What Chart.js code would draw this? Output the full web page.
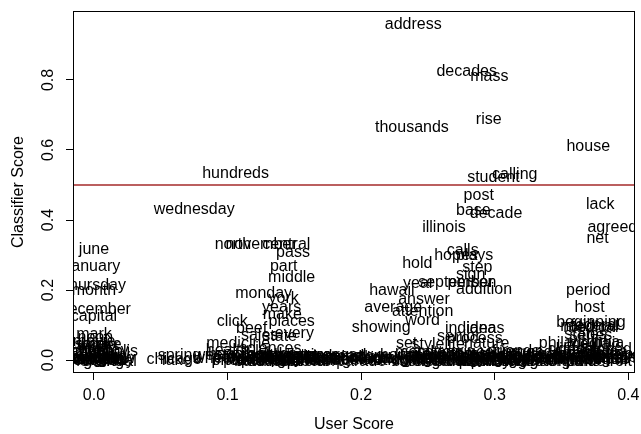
<!DOCTYPE html>
<html>
<head>
<meta charset="utf-8">
<script src="https://cdn.jsdelivr.net/npm/chart.js@4/dist/chart.umd.min.js"></script>
<style>
  body { margin:0; background:#fff; }
  canvas { display:block; }
</style>
</head>
<body>
<canvas id="chart" width="641" height="434"></canvas>
<script>
// =======================
// DATA
// =======================
const words = [
  "address","decades","mass","rise","thousands","house","calling","hundreds","student","post",
  "lack","wednesday","base","decade","illinois","agreed","net","north","november","central",
  "june","calls","pass","hopes","plays","hold","january","part","step","sign",
  "middle","september","person","year","thursday","addition","hawaii","month","period","monday",
  "york","answer","years","average","host","december","attention","make","capital","word",
  "places","click","beginning","national","federal","medical","showing","beef","indiana","ideas",
  "every","mark","states","series","sales","state","senior","process","movie","virginia",
  "medicine","philadelphia","set","nature","style","life","media","smoke","friday","sciences",
  "clinton","developed","health","saturday","friends","minneapolis","agenda","april","jersey","west",
  "spring","sunday","fire","weight","college","money","river","music","board","science",
  "history","boston","head","garden","march","power","field","team","summer","ohio",
  "texas","market","today","plants","canada","europe","october","social","daughter","island",
  "water","season","brand","food","james","tonight","police","light","training","railroad",
  "august","church","family","goal","design","sense","chicago","energy","stadium","paper",
  "weekend","game","court","bread","engine","lake","morning","school","general","pennsylvania",
  "special","local","village","center","holiday","station","bridge","doctor","streets","prices",
  // left cluster
  "may","july","week","night","evening","february","yesterday","tomorrow","winter","noon","hour",
  // middle band
  "wheel","heat","price","gold","bank","rock","movies","office","club","teacher","meeting",
  "report","theater","council","dinner","stone","tree","hospital","street","road","parade","store","hotel",
  // right-centre band
  "horse","color","metal","coffee","glass","sugar","cotton","ocean","band","coast","trade",
  "forest","engineering","software","fashion","painting","hockey","soccer","theatre",
  // right band
  "florida","georgia","ireland","london","toronto","paris","oregon","michigan","arizona","detroit","vermont","maine"
];

const userScore = [
  0.239,0.279,0.296,0.2955,0.238,0.370,0.315,0.106,0.299,0.288,
  0.379,0.075,0.284,0.301,0.262,0.388,0.377,0.104,0.125,0.144,
  0.000,0.276,0.149,0.271,0.285,0.242,0.000,0.142,0.287,0.282,
  0.148,0.271,0.283,0.243,0.001,0.292,0.223,0.000,0.370,0.127,
  0.142,0.247,0.1405,0.224,0.371,0.001,0.246,0.141,0.000,0.246,
  0.148,0.1035,0.372,0.370,0.375,0.372,0.215,0.118,0.282,0.293,
  0.150,0.000,0.368,0.372,0.124,0.139,0.273,0.285,0.000,0.375,
  0.108,0.365,0.234,0.294,0.250,0.270,0.370,0.003,0.002,0.132,
  0.357,0.375,0.100,0.003,0.316,0.001,0.330,0.000,0.382,0.087,
  0.064,0.002,0.238,0.256,0.390,0.128,0.170,0.116,0.144,0.280,
  0.300,0.363,0.189,0.270,0.000,0.105,0.156,0.247,0.310,0.340,
  0.372,0.136,0.203,0.290,0.353,0.388,0.003,0.154,0.232,0.320,
  0.120,0.260,0.336,0.108,0.380,0.002,0.148,0.252,0.305,0.360,
  0.004,0.124,0.140,0.242,0.295,0.384,0.060,0.275,0.345,0.112,
  0.000,0.152,0.265,0.285,0.315,0.062,0.001,0.132,0.012,0.308,
  0.157,0.175,0.182,0.196,0.210,0.218,0.226,0.165,0.325,0.330,
  0.000,0.002,0.004,0.006,0.004,0.005,0.004,0.006,0.003,0.001,0.002,
  0.090,0.097,0.101,0.110,0.118,0.122,0.126,0.130,0.134,0.138,0.142,
  0.146,0.150,0.154,0.160,0.168,0.174,0.180,0.186,0.192,0.200,0.207,0.214,
  0.229,0.236,0.240,0.245,0.250,0.255,0.258,0.262,0.268,0.272,0.278,
  0.282,0.288,0.293,0.298,0.303,0.308,0.313,0.318,
  0.340,0.346,0.350,0.356,0.362,0.366,0.370,0.376,0.380,0.386,0.392,0.396
];

const classifierScore = [
  0.959,0.824,0.811,0.688,0.663,0.609,0.531,0.533,0.521,0.471,
  0.443,0.431,0.427,0.419,0.379,0.379,0.348,0.330,0.331,0.329,
  0.316,0.314,0.307,0.297,0.297,0.276,0.267,0.267,0.264,0.243,
  0.235,0.222,0.221,0.217,0.212,0.202,0.198,0.197,0.197,0.189,
  0.176,0.174,0.151,0.151,0.151,0.145,0.138,0.131,0.124,0.112,
  0.111,0.109,0.108,0.095,0.098,0.092,0.093,0.091,0.089,0.089,
  0.076,0.074,0.072,0.070,0.069,0.066,0.067,0.060,0.053,0.050,
  0.048,0.047,0.046,0.046,0.045,0.044,0.044,0.043,0.035,0.033,
  0.029,0.029,0.027,0.028,0.024,0.023,0.020,0.018,0.015,0.012,
  0.012,0.012,0.012,0.012,0.012,0.012,0.012,0.010,0.010,0.010,
  0.010,0.010,0.009,0.009,0.008,0.008,0.008,0.008,0.008,0.008,
  0.008,0.006,0.006,0.006,0.006,0.006,0.005,0.005,0.005,0.005,
  0.004,0.004,0.004,0.003,0.003,0.002,0.002,0.002,0.002,0.002,
  0.000,0.000,0.000,0.000,0.000,0.000,0.000,0.001,0.001,-0.002,
  -0.002,-0.002,-0.002,-0.002,-0.002,-0.002,-0.003,-0.003,-0.004,-0.004,
  -0.005,0.002,-0.002,0.000,0.004,-0.002,0.002,-0.003,0.000,0.006,
  0.030,0.020,0.010,0.000,0.006,0.014,-0.002,0.003,0.040,0.065,0.045,
  0.004,0.015,-0.002,0.015,-0.003,0.015,-0.001,0.008,0.016,-0.004,0.014,
  0.004,0.013,-0.001,0.012,0.004,0.013,0.006,0.000,0.013,-0.003,0.011,0.005,
  0.014,-0.004,0.020,-0.003,0.016,-0.004,0.020,0.014,-0.003,0.017,-0.004,
  0.016,0.020,-0.004,0.015,-0.003,0.014,0.012,-0.004,
  0.014,-0.003,0.016,-0.004,0.017,-0.004,0.018,0.000,0.020,-0.004,0.016,0.004
];

const thresholdValue = 0.5;

const xTicks = [0.0, 0.1, 0.2, 0.3, 0.4];
const yTicks = [0.0, 0.2, 0.4, 0.6, 0.8];
const xLabel = "User Score";
const yLabel = "Classifier Score";

const X_MIN = -0.0157, X_MAX = 0.405;
const Y_MIN = -0.037, Y_MAX = 0.997;

// =======================
// PLUGINS
// =======================
const FONT = "16px 'Liberation Sans', Arial, Helvetica, sans-serif";

// word labels, centred on each point (clipped to plot region)
const wordLabels = {
  id: "wordLabels",
  afterDatasetsDraw(chart){
    const ctx = chart.ctx, a = chart.chartArea;
    const meta = chart.getDatasetMeta(0);
    ctx.save();
    ctx.beginPath();
    ctx.rect(a.left, a.top, a.right - a.left, a.bottom - a.top);
    ctx.clip();
    ctx.font = FONT;
    ctx.fillStyle = "#000";
    ctx.textAlign = "center";
    ctx.textBaseline = "middle";
    meta.data.forEach((el, i) => {
      ctx.fillText(words[i], el.x, el.y);
    });
    ctx.restore();
  }
};

// box, tick labels, axis titles
const frame = {
  id: "frame",
  afterDraw(chart){
    const ctx = chart.ctx, a = chart.chartArea;
    const xs = chart.scales.x, ys = chart.scales.y;
    ctx.save();
    ctx.strokeStyle = "#000";
    ctx.lineWidth = 1;
    ctx.strokeRect(a.left + 0.5, a.top + 0.5, a.right - a.left - 1, a.bottom - a.top - 1);

    ctx.font = FONT;
    ctx.fillStyle = "#000";
    ctx.textAlign = "center";
    ctx.textBaseline = "middle";
    xTicks.forEach(v => ctx.fillText(v.toFixed(1), xs.getPixelForValue(v), 396));
    yTicks.forEach(v => {
      ctx.save();
      ctx.translate(49, ys.getPixelForValue(v));
      ctx.rotate(-Math.PI / 2);
      ctx.fillText(v.toFixed(1), 0, 0);
      ctx.restore();
    });
    ctx.fillText(xLabel, (a.left + a.right) / 2, 425);
    ctx.save();
    ctx.translate(19, (a.top + a.bottom) / 2);
    ctx.rotate(-Math.PI / 2);
    ctx.fillText(yLabel, 0, 0);
    ctx.restore();
    ctx.restore();
  }
};

// =======================
// CHART
// =======================
const points = words.map((w, i) => ({ x: userScore[i], y: classifierScore[i] }));

new Chart(document.getElementById("chart"), {
  type: "scatter",
  data: {
    datasets: [
      { data: points, pointRadius: 0, pointHoverRadius: 0 },
      {
        type: "line",
        data: [{ x: X_MIN, y: thresholdValue }, { x: X_MAX, y: thresholdValue }],
        borderColor: "#a52a2a",
        borderWidth: 1.3,
        pointRadius: 0
      }
    ]
  },
  options: {
    responsive: false,
    animation: false,
    devicePixelRatio: 1,
    layout: { padding: { top: 11, right: 6, left: 0, bottom: 0 } },
    plugins: { legend: { display: false }, tooltip: { enabled: false } },
    events: [],
    scales: {
      x: {
        type: "linear", min: X_MIN, max: X_MAX,
        afterBuildTicks: s => { s.ticks = xTicks.map(v => ({ value: v })); },
        afterFit: s => { s.height = 61; },
        grid: { drawOnChartArea: false, drawTicks: true, tickLength: 7, color: "#000" },
        border: { display: false },
        ticks: { display: false }
      },
      y: {
        type: "linear", min: Y_MIN, max: Y_MAX,
        afterBuildTicks: s => { s.ticks = yTicks.map(v => ({ value: v })); },
        afterFit: s => { s.width = 73; },
        grid: { drawOnChartArea: false, drawTicks: true, tickLength: 7, color: "#000" },
        border: { display: false },
        ticks: { display: false }
      }
    }
  },
  plugins: [wordLabels, frame]
});
</script>
</body>
</html>
